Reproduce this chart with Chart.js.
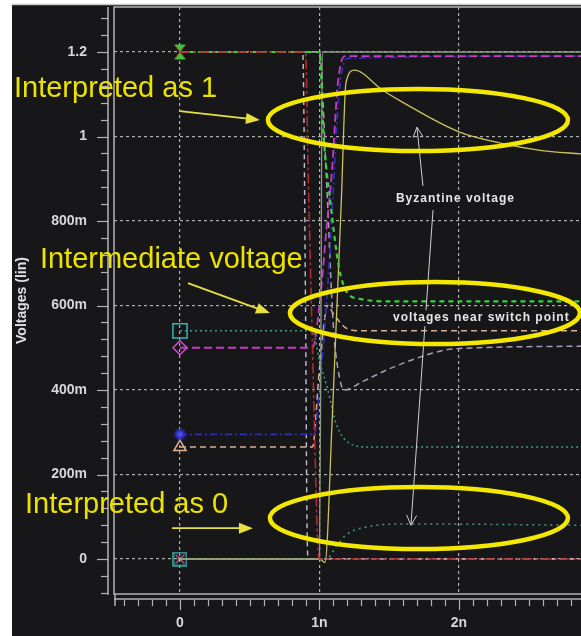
<!DOCTYPE html>
<html>
<head>
<meta charset="utf-8">
<script src="https://cdn.jsdelivr.net/npm/chart.js@4.4.1/dist/chart.umd.min.js"></script>
<style>
  html, body { margin: 0; padding: 0; background: #fff; overflow: hidden; }
  canvas { display: block; }
</style>
</head>
<body>
<canvas id="c" width="581" height="636"></canvas>
<script>
// Time axis in ns, voltage axis in V
const xTickValues = [0, 1, 2];
const xTickLabels = ['0', '1n', '2n'];
const yTickValues = [0, 0.2, 0.4, 0.6, 0.8, 1.0, 1.2];
const yTickLabels = ['0', '200m', '400m', '600m', '800m', '1', '1.2'];

// Node waveforms (t in ns, v in V)
const redT = [0, 0.9, 0.92, 0.95, 0.99, 1.0, 2.9];
const redV = [1.2, 1.2, 0.9, 0.5, 0.02, 0, 0];

const greenT = [0, 1.0, 1.03, 1.08, 1.14, 1.2, 1.3, 1.45, 2.9];
const greenV = [1.2, 1.2, 1.0, 0.84, 0.69, 0.63, 0.615, 0.61, 0.61];

const magentaT = [0, 0.95, 1.0, 1.05, 1.09, 1.13, 1.18, 2.9];
const magentaV = [0.5, 0.5, 0.6, 0.78, 0.92, 1.12, 1.19, 1.19];

const blueT = [0, 0.96, 1.0, 1.07, 1.14, 1.2, 2.9];
const blueV = [0.295, 0.295, 0.4, 0.7, 1.1, 1.185, 1.19];

const tealT = [0, 0.95, 1.0, 1.06, 1.12, 1.21, 1.35, 2.9];
const tealV = [0.54, 0.54, 0.47, 0.4, 0.32, 0.275, 0.265, 0.265];

const tanT = [0, 0.95, 1.0, 1.06, 1.1, 1.2, 1.3, 2.9];
const tanV = [0.265, 0.265, 0.45, 0.6, 0.58, 0.545, 0.54, 0.54];

const lavenderT = [0, 1.0, 1.05, 1.1, 1.15, 1.18, 1.31, 1.5, 1.74, 1.91, 2.14, 2.9];
const lavenderV = [1.2, 1.2, 0.9, 0.55, 0.42, 0.40, 0.42, 0.45, 0.48, 0.495, 0.5, 0.504];

const lilacT = [0, 0.88, 0.9, 0.91, 0.92, 2.9];
const lilacV = [1.2, 1.2, 0.6, 0.1, 0, 0];

const byzT = [0, 1.0, 1.04, 1.09, 1.157, 1.19, 1.25, 1.45, 1.57, 2.0, 2.29, 2.57, 2.9];
const byzV = [0, 0, -0.008, 0.32, 0.85, 1.127, 1.157, 1.11, 1.086, 1.011, 0.985, 0.968, 0.958];

const lowT = [0, 1.05, 1.12, 1.19, 1.34, 1.62, 2.9];
const lowV = [0, 0, 0.03, 0.057, 0.076, 0.083, 0.08];

const outT = [0, 1.0, 1.01, 1.02, 2.9];
const outV = [0, 0, 0.5, 1.2, 1.2];

const X_MIN = -0.473, X_MAX = 2.875;
const Y_MIN = -0.0828, Y_MAX = 1.3065;

const pts = (ts, vs) => ts.map((t, i) => ({ x: t, y: vs[i] }));

function makeMarker(w, h, draw) {
  const c = document.createElement('canvas');
  c.width = w; c.height = h;
  draw(c.getContext('2d'), w, h);
  return c;
}
const hourglass = makeMarker(14, 17, (g, w, h) => {
  g.fillStyle = '#3cc83c';
  g.beginPath(); g.moveTo(1, 1); g.lineTo(w - 1, 1); g.lineTo(w / 2, h / 2); g.closePath(); g.fill();
  g.beginPath(); g.moveTo(1, h - 1); g.lineTo(w - 1, h - 1); g.lineTo(w / 2, h / 2); g.closePath(); g.fill();
  g.strokeStyle = '#c03838'; g.lineWidth = 1;
  g.beginPath(); g.moveTo(3, 3); g.lineTo(w - 3, h - 3); g.moveTo(w - 3, 3); g.lineTo(3, h - 3); g.stroke();
});
const boxCross = makeMarker(15, 15, (g, w, h) => {
  g.strokeStyle = '#3fb0a8'; g.lineWidth = 1.5;
  g.strokeRect(1, 1, w - 2, h - 2);
  g.strokeStyle = '#d060c0'; g.lineWidth = 1.2;
  g.beginPath(); g.moveTo(3, 3); g.lineTo(w - 3, h - 3); g.moveTo(w - 3, 3); g.lineTo(3, h - 3); g.stroke();
  g.fillStyle = '#c8c060'; g.beginPath(); g.arc(w / 2, h / 2, 1.8, 0, Math.PI * 2); g.fill();
});
const blueDot = makeMarker(14, 14, (g, w, h) => {
  const grd = g.createRadialGradient(w / 2, h / 2, 0, w / 2, h / 2, w / 2);
  grd.addColorStop(0, '#6060ff'); grd.addColorStop(0.5, '#3030c8'); grd.addColorStop(1, 'rgba(40,40,180,0)');
  g.fillStyle = grd; g.fillRect(0, 0, w, h);
});

function series(ts, vs, color, dash, width, first) {
  const f = first || {};
  return {
    data: pts(ts, vs),
    borderColor: color,
    borderDash: dash,
    borderWidth: width,
    cubicInterpolationMode: 'monotone',
    fill: false,
    pointStyle: f.style || false,
    pointRadius: c => (f.style && c.dataIndex === 0 ? (f.r || 8) : 0),
    pointBorderColor: f.color || color,
    pointBackgroundColor: 'rgba(0,0,0,0)',
    pointBorderWidth: 1.5,
    pointHoverRadius: 0
  };
}

// earlier entries are painted on top
const datasets = [
  series(redT, redV, '#b42a2a', [10, 3, 3, 3], 1.6),
  series(greenT, greenV, '#3fcf3f', [5, 4], 2.2, { style: hourglass }),
  series(outT, outV, '#8a9c84', [], 1.3),
  series(byzT, byzV, '#c9c25a', [], 1.3, { style: boxCross }),
  series(lowT, lowV, '#3f9a8c', [2, 4], 1.5),
  series(magentaT, magentaV, '#c43cc4', [8, 4], 1.8, { style: 'rectRot', r: 7, color: '#d050d0' }),
  series(blueT, blueV, '#2d2db8', [7, 3, 2, 3], 1.8, { style: blueDot }),
  series(tealT, tealV, '#3f9a8c', [2, 3], 1.5, { style: 'rect', r: 10, color: '#40b0b0' }),
  series(tanT, tanV, '#d6b196', [6, 4], 1.5, { style: 'triangle', r: 7, color: '#e0b090' }),
  series(lavenderT, lavenderV, '#a89ab8', [6, 4], 1.5),
  series(lilacT, lilacV, '#c4bcd4', [5, 4], 1.4)
];

// Callouts: text in yellow, ellipses around regions of the plot, pointer arrows
const callouts = [
  { text: 'Interpreted as 1', t: -1.19, v: 1.094 },
  { text: 'Intermediate voltage', t: -1.004, v: 0.689 },
  { text: 'Interpreted as 0', t: -1.111, v: 0.109 }
];
const rings = [
  { t: 1.706, v: 1.039, rx: 150, ry: 31 },
  { t: 1.828, v: 0.582, rx: 145, ry: 31 },
  { t: 1.713, v: 0.097, rx: 149, ry: 31 }
];
const pointers = [
  { t0: 0.0, v0: 1.060, t1: 0.573, v1: 1.039 },
  { t0: 0.057, v0: 0.653, t1: 0.645, v1: 0.582 },
  { t0: -0.057, v0: 0.073, t1: 0.523, v1: 0.073 }
];
const notes = [
  { text: 'Byzantine voltage', t: 1.548, v: 0.854 },
  { text: 'voltages near switch point', t: 1.527, v: 0.570 }
];
const noteArrows = [
  { t0: 1.742, v0: 0.883, t1: 1.699, v1: 1.022 },
  { t0: 1.814, v0: 0.826, t1: 1.656, v1: 0.080 }
];

const BG = '#17171a';
const FRAME = '#b4b4b4';

const backdrop = {
  id: 'backdrop',
  beforeDraw(chart) {
    const g = chart.ctx;
    g.save();
    g.fillStyle = BG;
    g.fillRect(0, 0, chart.width, chart.height);
    g.fillStyle = '#ffffff';
    g.fillRect(0, 0, chart.width, 4);
    g.fillRect(0, 0, 12, chart.height);
    g.strokeStyle = '#c8c8c8';
    g.lineWidth = 1.5;
    g.beginPath(); g.moveTo(12, 4.5); g.lineTo(chart.width, 4.5); g.stroke();
    g.restore();
  }
};

const frame = {
  id: 'frame',
  afterDatasetsDraw(chart) {
    const g = chart.ctx;
    const a = chart.chartArea;
    const xs = chart.scales.x, ys = chart.scales.y;
    g.save();
    g.strokeStyle = FRAME;
    g.lineWidth = 1.5;
    // plot frame
    g.beginPath();
    g.moveTo(a.right + 2, a.top); g.lineTo(a.left, a.top); g.lineTo(a.left, a.bottom); g.lineTo(a.right + 2, a.bottom);
    g.stroke();
    // y spine with major and minor ticks
    const sx = a.left - 6;
    g.beginPath(); g.moveTo(sx, a.top); g.lineTo(sx, a.bottom + 1); g.stroke();
    g.lineWidth = 1.2;
    for (let k = -2; k <= 32; k++) {
      const v = k * 0.04;
      if (v < ys.min || v > ys.max) continue;
      const y = Math.round(ys.getPixelForValue(v)) + 0.5;
      const major = k % 5 === 0;
      g.beginPath(); g.moveTo(sx, y); g.lineTo(sx - (major ? 11 : 7), y); g.stroke();
    }
    // x spine with major and minor ticks
    const sy = a.bottom + 5;
    g.lineWidth = 1.5;
    g.beginPath(); g.moveTo(a.left, sy); g.lineTo(a.right + 2, sy); g.stroke();
    g.beginPath(); g.moveTo(a.left + 1, a.bottom); g.lineTo(a.left + 1, sy + 7); g.stroke();
    g.lineWidth = 1.2;
    for (let k = -5; k <= 29; k++) {
      const t = k * 0.1;
      if (t < xs.min || t > xs.max) continue;
      const x = Math.round(xs.getPixelForValue(t)) + 0.5;
      const major = k % 10 === 0;
      g.beginPath(); g.moveTo(x, sy + 1); g.lineTo(x, sy + (major ? 11 : 7)); g.stroke();
    }
    g.restore();
  }
};

function arrowHead(g, x0, y0, x1, y1, len, half, filled) {
  const ang = Math.atan2(y1 - y0, x1 - x0);
  const bx = x1 - Math.cos(ang) * len, by = y1 - Math.sin(ang) * len;
  const nx = -Math.sin(ang) * half, ny = Math.cos(ang) * half;
  g.beginPath();
  g.moveTo(bx + nx, by + ny); g.lineTo(x1, y1); g.lineTo(bx - nx, by - ny);
  if (filled) { g.closePath(); g.fill(); } else { g.stroke(); }
}

const markup = {
  id: 'markup',
  afterDraw(chart) {
    const g = chart.ctx;
    const xs = chart.scales.x, ys = chart.scales.y;
    const P = (t, v) => [xs.getPixelForValue(t), ys.getPixelForValue(v)];
    g.save();

    // grey pointers from the notes
    g.strokeStyle = '#cfcfcf'; g.fillStyle = '#cfcfcf'; g.lineWidth = 1;
    noteArrows.forEach(a => {
      const [x0, y0] = P(a.t0, a.v0), [x1, y1] = P(a.t1, a.v1);
      g.beginPath(); g.moveTo(x0, y0); g.lineTo(x1, y1); g.stroke();
      arrowHead(g, x0, y0, x1, y1, 10, 5, false);
    });
    g.font = 'bold 12px "Liberation Sans", Arial, sans-serif';
    g.letterSpacing = '1px';
    g.textBaseline = 'middle';
    g.textAlign = 'left';
    notes.forEach(n => {
      const [x, y] = P(n.t, n.v);
      const w = g.measureText(n.text).width;
      g.fillStyle = BG;
      g.fillRect(x - 3, y - 8, w + 6, 16);
      g.fillStyle = '#e6e6e6';
      g.fillText(n.text, x, y);
    });
    g.letterSpacing = '0px';

    // yellow ellipses
    g.strokeStyle = '#f4e800';
    g.lineWidth = 4.5;
    rings.forEach(r => {
      const [cx, cy] = P(r.t, r.v);
      g.beginPath(); g.ellipse(cx, cy, r.rx, r.ry, 0, 0, Math.PI * 2); g.stroke();
    });

    // yellow pointers
    g.strokeStyle = '#e8e040'; g.fillStyle = '#e8e040'; g.lineWidth = 1.8;
    pointers.forEach(a => {
      const [x0, y0] = P(a.t0, a.v0), [x1, y1] = P(a.t1, a.v1);
      const ang = Math.atan2(y1 - y0, x1 - x0);
      g.beginPath(); g.moveTo(x0, y0); g.lineTo(x1 - Math.cos(ang) * 8, y1 - Math.sin(ang) * 8); g.stroke();
      arrowHead(g, x0, y0, x1, y1, 14, 5.5, true);
    });

    // yellow captions
    g.fillStyle = '#ece200';
    g.font = '29px "Liberation Sans", Arial, sans-serif';
    g.textBaseline = 'alphabetic';
    callouts.forEach(c => {
      const [x, y] = P(c.t, c.v);
      g.fillText(c.text, x, y);
    });
    g.restore();
  }
};

const tickFont = { family: '"Liberation Sans", Arial, sans-serif', size: 14, weight: 'bold' };

new Chart(document.getElementById('c'), {
  type: 'line',
  data: { datasets },
  options: {
    responsive: false,
    animation: false,
    events: [],
    layout: { autoPadding: false, padding: { top: 7, right: 0, bottom: 0, left: 0 } },
    plugins: { legend: { display: false }, tooltip: { enabled: false } },
    scales: {
      x: {
        type: 'linear',
        min: X_MIN,
        max: X_MAX,
        afterFit(s) { s.height = 42; s.paddingLeft = 0; s.paddingRight = 0; },
        afterBuildTicks(s) { s.ticks = xTickValues.map(v => ({ value: v })); },
        ticks: {
          callback: (v, i) => xTickLabels[i],
          color: '#d8d8d8',
          font: tickFont,
          padding: 21,
          maxRotation: 0,
          autoSkip: false
        },
        grid: { color: '#b0b0b0', lineWidth: 1.2, drawTicks: false },
        border: { display: false, dash: [3, 3] }
      },
      y: {
        type: 'linear',
        min: Y_MIN,
        max: Y_MAX,
        afterFit(s) { s.width = 114; s.paddingTop = 0; s.paddingBottom = 0; },
        afterBuildTicks(s) { s.ticks = yTickValues.map(v => ({ value: v })); },
        ticks: {
          callback: (v, i) => yTickLabels[i],
          color: '#d8d8d8',
          font: tickFont,
          padding: 27,
          autoSkip: false
        },
        grid: { color: '#b0b0b0', lineWidth: 1.2, drawTicks: false },
        border: { display: false, dash: [3, 3] },
        title: {
          display: true,
          text: 'Voltages (lin)',
          color: '#e0e0e0',
          font: { family: '"Liberation Sans", Arial, sans-serif', size: 14, weight: 'bold' },
          padding: { top: 14, bottom: 0 }
        }
      }
    }
  },
  plugins: [backdrop, frame, markup]
});
</script>
</body>
</html>
